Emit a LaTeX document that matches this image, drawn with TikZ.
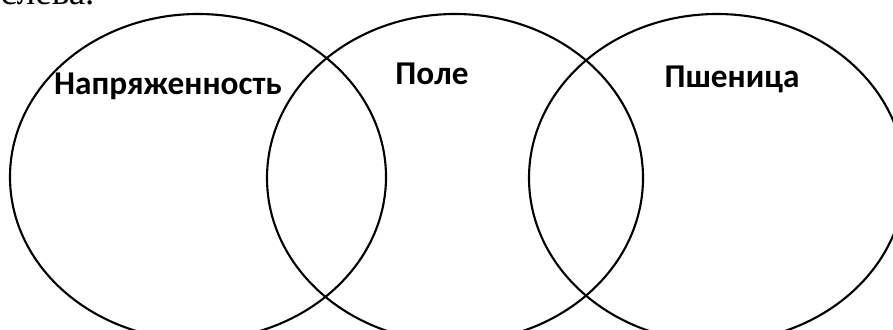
\documentclass[tikz,border=0pt]{standalone}
\usepackage{fontspec}
\setmainfont{Liberation Serif}
\newfontfamily\lblfont{Carlito}
\usepackage{tikz}
\usetikzlibrary{positioning}

\begin{document}
\begin{tikzpicture}[
    x=0.3788pt, y=0.3788pt,
    vset/.style={draw=black, line width=0.8pt},
    lbl/.style={anchor=base, inner sep=0pt, font=\lblfont\bfseries\fontsize{12.6}{15}\selectfont}
]
\useasboundingbox (0,0) rectangle (893,329);
\clip (0,0) rectangle (893,329);

% cut-off line of text above the picture
\node[anchor=base west, inner sep=0pt, font=\fontsize{14}{16}\selectfont] (prev) at (0,324.5) {слева.};

% the three sets
\draw[vset] (198,152) ellipse [x radius=188, y radius=163];
\draw[vset] (455,151) ellipse [x radius=188, y radius=164];
\draw[vset] (717,151) ellipse [x radius=188, y radius=164];

\node[lbl] (napr) at (168,234) {Напряженность};
\node[lbl] (pole) at (432,244) {Поле};
\node[lbl] (psh) at (732,241) {Пшеница};

\end{tikzpicture}
\end{document}
